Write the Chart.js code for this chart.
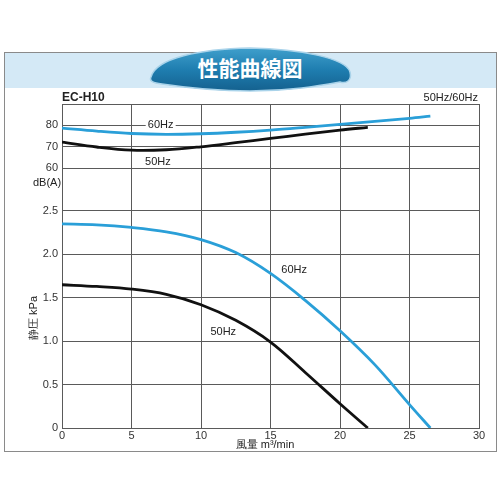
<!DOCTYPE html>
<html>
<head>
<meta charset="utf-8">
<script src="https://cdn.jsdelivr.net/npm/chart.js@4.4.1/dist/chart.umd.min.js"></script>
<style>
  body { margin: 0; background: #fff; }
  #wrap { position: relative; width: 500px; height: 500px; overflow: hidden; }
  #frame { position: absolute; left: 4px; top: 52px; width: 491px; height: 398px; border: 1.5px solid #8a8a8a; }
  #band { position: absolute; left: 0; top: 0; width: 100%; height: 35px; background: #d4e9f6; }
  #banner { position: absolute; left: 0; top: 0; }
  canvas { position: absolute; left: 0; top: 0; }
</style>
</head>
<body>
<div id="wrap">
  <div id="frame"><div id="band"></div></div>
  <svg id="banner" width="500" height="110">
    <defs>
      <linearGradient id="bg" x1="0" y1="0" x2="0" y2="1">
        <stop offset="0" stop-color="#3f9fcc"/>
        <stop offset="0.5" stop-color="#1f7eb0"/>
        <stop offset="1" stop-color="#14618f"/>
      </linearGradient>
    </defs>
    <path d="M151,77 C156,58 200,49 250,48 C300,49 346,58 350,72 C352,80 347,84 340,82 C318,86 290,91 250,91 C210,91 182,87 162,84 C153,83 149,81 151,77 Z"
          fill="url(#bg)" stroke="#a9d3ea" stroke-width="1.5"/>
    <text x="250" y="76" text-anchor="middle" fill="#fff" font-size="21" font-weight="bold"
          font-family="'Noto Sans CJK JP', sans-serif">性能曲線図</text>
  </svg>
  <canvas id="myChart" width="500" height="500"></canvas>
</div>
<script>
// flow (m3/min) sample points
const flow60 = [0, 2.5, 5, 7.5, 10, 12.5, 15, 17.5, 20, 22.5, 25, 26.5];
const flow50 = [0, 2.5, 5, 7.5, 10, 12.5, 15, 17.5, 20, 22];

// static pressure kPa
const pressure60 = [2.35, 2.34, 2.31, 2.26, 2.17, 2.02, 1.78, 1.47, 1.12, 0.73, 0.27, 0];
const pressure50 = [1.65, 1.63, 1.60, 1.54, 1.42, 1.24, 0.99, 0.64, 0.28, 0];

// noise dB(A)
const noise60 = [78.7, 77.3, 76.2, 75.8, 76.1, 76.8, 77.8, 79.1, 80.5, 81.9, 83.3, 84.3];
const noise50 = [72.2, 69.9, 68.4, 68.6, 70.0, 71.9, 73.9, 75.9, 77.8, 79.1];

const xTicks = [0, 5, 10, 15, 20, 25, 30];
const dbTicks = [60, 70, 80];
const kpaTicks = [0, 0.5, 1.0, 1.5, 2.0, 2.5];

const BLUE = '#2a9fd8';
const BLACK = '#111';
const GRID = '#5a5a5a';
const FONT = "'Liberation Sans', Arial, sans-serif";

const pts = (xs, ys) => xs.map((x, i) => ({ x: x, y: ys[i] }));

// labels + frame on top of the plot
const extras = {
    id: 'extras',
    afterDraw(chart) {
        const ctx = chart.ctx;
        const a = chart.chartArea;
        const x = chart.scales.x;
        const yDb = chart.scales.yDb;
        const yP = chart.scales.yP;

        ctx.save();
        // top frame line
        ctx.strokeStyle = GRID;
        ctx.lineWidth = 1;
        ctx.beginPath();
        ctx.moveTo(a.left, a.top + 0.5);
        ctx.lineTo(a.right, a.top + 0.5);
        ctx.stroke();

        ctx.fillStyle = '#222';
        ctx.font = '11px ' + FONT;
        ctx.textAlign = 'center';
        ctx.textBaseline = 'middle';

        // 60Hz on the noise curve sits on the 80 gridline
        let px = x.getPixelForValue(7.1), py = yDb.getPixelForValue(80);
        ctx.fillStyle = '#fff';
        ctx.fillRect(px - 15, py - 5, 30, 10);
        ctx.fillStyle = '#222';
        ctx.fillText('60Hz', px, py);
        ctx.fillText('50Hz', x.getPixelForValue(6.9), yDb.getPixelForValue(62.8));
        ctx.fillText('60Hz', x.getPixelForValue(16.7), yP.getPixelForValue(1.82));
        ctx.fillText('50Hz', x.getPixelForValue(11.6), yP.getPixelForValue(1.11));

        // axis titles
        ctx.fillText('dB(A)', 47, 183);
        ctx.fillText('風量 m³/min', 265, 445);
        ctx.save();
        ctx.translate(34, 318);
        ctx.rotate(-Math.PI / 2);
        ctx.fillText('静圧 kPa', 0, 0);
        ctx.restore();

        // header texts
        ctx.textBaseline = 'alphabetic';
        ctx.textAlign = 'left';
        ctx.font = 'bold 12px ' + FONT;
        ctx.fillText('EC-H10', 62, 101);
        ctx.textAlign = 'right';
        ctx.font = '11px ' + FONT;
        ctx.fillText('50Hz/60Hz', 478, 101);
        ctx.restore();
    }
};

const ctx = document.getElementById('myChart').getContext('2d');
const chart = new Chart(ctx, {
    type: 'line',
    data: {
        datasets: [
            { data: pts(flow60, noise60), yAxisID: 'yDb', borderColor: BLUE },
            { data: pts(flow50, noise50), yAxisID: 'yDb', borderColor: BLACK },
            { data: pts(flow60, pressure60), yAxisID: 'yP', borderColor: BLUE },
            { data: pts(flow50, pressure50), yAxisID: 'yP', borderColor: BLACK }
        ]
    },
    options: {
        responsive: false,
        animation: false,
        layout: { padding: { left: 0, top: 104, right: 21, bottom: 42 } },
        elements: {
            point: { radius: 0 },
            line: { borderWidth: 2.8, tension: 0.35, fill: false }
        },
        plugins: { legend: { display: false }, tooltip: { enabled: false } },
        scales: {
            x: {
                type: 'linear', min: 0, max: 30,
                afterBuildTicks: s => { s.ticks = xTicks.map(v => ({ value: v })); },
                afterFit: s => { s.height = 30; },
                grid: { color: GRID, drawTicks: false },
                border: { color: GRID },
                ticks: { color: '#333', font: { size: 11, family: FONT }, padding: 1, maxRotation: 0 }
            },
            yP: {
                type: 'linear', position: 'left', stack: 'v', stackWeight: 2.03, min: 0, max: 2.5,
                afterBuildTicks: s => { s.ticks = kpaTicks.map(v => ({ value: v })); },
                afterFit: s => { s.width = 62; },
                grid: { color: GRID, drawTicks: false },
                border: { color: GRID },
                ticks: {
                    color: '#333', font: { size: 11, family: FONT }, padding: 4,
                    callback: v => v === 0 ? '0' : v.toFixed(1)
                }
            },
            yDb: {
                type: 'linear', position: 'left', stack: 'v', stackWeight: 1, min: 40, max: 90,
                afterBuildTicks: s => { s.ticks = dbTicks.map(v => ({ value: v })); },
                afterFit: s => { s.width = 62; },
                grid: { color: GRID, drawTicks: false },
                border: { color: GRID },
                ticks: { color: '#333', font: { size: 11, family: FONT }, padding: 4 }
            }
        }
    },
    plugins: [extras]
});
</script>
</body>
</html>
